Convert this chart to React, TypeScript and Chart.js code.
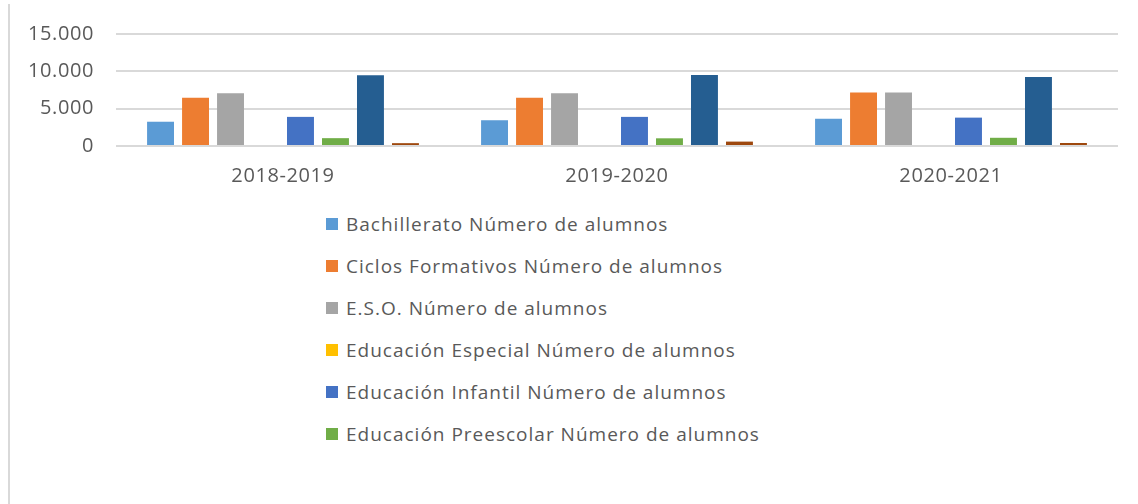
import React, { useEffect, useRef } from "react";
import { Chart, registerables } from "chart.js";

Chart.register(...registerables);

const categories = ["2018-2019", "2019-2020", "2020-2021"];

const seriesLabels = [
  "Bachillerato Número de alumnos",
  "Ciclos Formativos Número de alumnos",
  "E.S.O. Número de alumnos",
  "Educación Especial Número de alumnos",
  "Educación Infantil Número de alumnos",
  "Educación Preescolar Número de alumnos",
  "Educación Primaria Número de alumnos",
  "Formación Profesional Básica Número de alumnos",
];

const seriesColors = [
  "#5B9BD5",
  "#ED7D31",
  "#A5A5A5",
  "#FFC000",
  "#4472C4",
  "#70AD47",
  "#255E91",
  "#9E480E",
];

const bachillerato = [3250, 3450, 3650];
const ciclos = [6450, 6450, 7150];
const eso = [7050, 7080, 7150];
const especial = [0, 0, 0];
const infantil = [3900, 3900, 3800];
const preescolar = [1050, 1030, 1100];
const primaria = [9480, 9500, 9250];
const fpBasica = [380, 590, 400];

const seriesValues = [bachillerato, ciclos, eso, especial, infantil, preescolar, primaria, fpBasica];

const legendCount = 6;

const yTicks = [0, 5000, 10000, 15000];

const FONT = "'Open Sans', sans-serif";
const TEXT = "#595959";
const SPACING = "0.6px";

function fmt(v: number): string {
  return String(Math.round(v)).replace(/\B(?=(\d{3})+(?!\d))/g, ".");
}

const spacingPlugin = {
  id: "letterSpacing",
  beforeLayout(chart: any) {
    chart.ctx.letterSpacing = SPACING;
  },
  beforeDraw(chart: any) {
    chart.ctx.letterSpacing = SPACING;
  },
};

export default function App() {
  const ref = useRef<HTMLCanvasElement | null>(null);

  useEffect(() => {
    document.body.style.margin = "0";
    const canvas = ref.current;
    if (!canvas) return;
    const chart = new Chart(canvas, {
      type: "bar",
      data: {
        labels: categories,
        datasets: seriesValues.map((vals, i) => ({
          label: seriesLabels[i],
          data: vals,
          backgroundColor: seriesColors[i],
          borderWidth: 0,
          categoryPercentage: 0.838,
          barPercentage: 0.77,
        })),
      },
      plugins: [spacingPlugin],
      options: {
        animation: false,
        responsive: false,
        devicePixelRatio: 1,
        layout: { padding: { top: 34, left: 0, right: 20, bottom: 0 } },
        plugins: {
          legend: { display: false },
          tooltip: { enabled: false },
          title: { display: false },
        },
        scales: {
          x: {
            grid: { display: false, drawTicks: false },
            border: { display: false },
            ticks: {
              color: TEXT,
              font: { family: FONT, size: 20 },
              padding: 18,
            },
            afterFit: (s: any) => {
              s.height = 54;
            },
          },
          y: {
            min: 0,
            max: 15000,
            afterBuildTicks: (s: any) => {
              s.ticks = yTicks.map((v) => ({ value: v }));
            },
            grid: { color: "#D9D9D9", lineWidth: 2, drawTicks: false },
            border: { display: false },
            ticks: {
              color: TEXT,
              font: { family: FONT, size: 20 },
              padding: 22,
              callback: (v: any) => fmt(Number(v)),
            },
            afterFit: (s: any) => {
              s.width = 116;
            },
          },
        },
      },
    });
    return () => chart.destroy();
  }, []);

  return (
    <div
      style={{
        position: "relative",
        width: 1138,
        height: 504,
        overflow: "hidden",
        background: "#FFFFFF",
      }}
    >
      <div
        style={{
          position: "absolute",
          left: 8,
          top: 4,
          width: 2,
          height: 500,
          background: "#D9D9D9",
        }}
      />
      <canvas
        ref={ref}
        width={1138}
        height={200}
        style={{ position: "absolute", left: 0, top: 0, width: 1138, height: 200 }}
      />
      {seriesLabels.slice(0, legendCount).map((label, i) => (
        <div
          key={label}
          style={{
            position: "absolute",
            left: 326,
            top: 224 + i * 42 - 12,
            height: 24,
            display: "flex",
            alignItems: "center",
            whiteSpace: "nowrap",
            fontFamily: FONT,
            fontSize: 19,
            letterSpacing: "1px",
            color: TEXT,
          }}
        >
          <span
            style={{
              display: "inline-block",
              width: 12,
              height: 12,
              background: seriesColors[i],
              marginRight: 8,
            }}
          />
          <span>{label}</span>
        </div>
      ))}
    </div>
  );
}
